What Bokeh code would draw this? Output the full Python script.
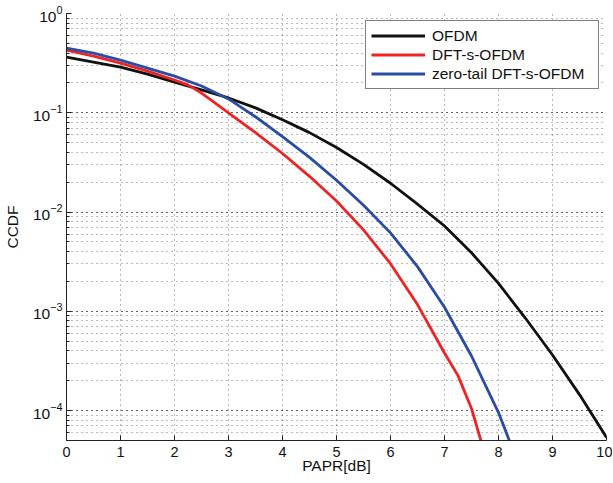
from bokeh.plotting import figure
from bokeh.models import Range1d, FixedTicker, LogTicker
from bokeh.embed import file_html
from bokeh.resources import INLINE

# ---- data ----
ofdm_x = [0, 0.5, 1, 1.5, 2, 2.5, 3, 3.5, 4, 4.5, 5, 5.5, 6, 6.5, 7, 7.5, 8,
          8.5, 9, 9.5, 10]
ofdm_y = [0.363, 0.324, 0.288, 0.245, 0.204, 0.170, 0.141, 0.112, 0.0851,
          0.0631, 0.0447, 0.0302, 0.0195, 0.0120, 0.00724, 0.00389, 0.00191,
          8.51e-4, 3.63e-4, 1.45e-4, 5.37e-5]

dfts_x = [0, 0.5, 1, 1.5, 2, 2.25, 2.5, 2.75, 3, 3.5, 4, 4.5, 5, 5.5, 6, 6.5,
          7, 7.25, 7.5, 7.7]
dfts_y = [0.427, 0.372, 0.316, 0.263, 0.214, 0.191, 0.158, 0.126, 0.100,
          0.0631, 0.0389, 0.0229, 0.0129, 0.00661, 0.00302, 0.00117, 3.80e-4,
          2.25e-4, 1.05e-4, 4.47e-5]

zt_x = [0, 0.5, 1, 1.5, 2, 2.5, 3, 3.5, 4, 4.5, 5, 5.5, 6, 6.5, 7, 7.5, 8, 8.2]
zt_y = [0.447, 0.398, 0.339, 0.282, 0.234, 0.186, 0.138, 0.0912, 0.0575,
        0.0355, 0.0209, 0.0117, 0.00617, 0.00282, 0.00110, 3.55e-4, 9.55e-5,
        5.01e-5]

x_ticks = [0, 1, 2, 3, 4, 5, 6, 7, 8, 9, 10]
series_names = ["OFDM", "DFT-s-OFDM", "zero-tail DFT-s-OFDM"]
x_label = "PAPR[dB]"
y_label = "CCDF"

FONT = "Liberation Sans"

p = figure(width=612, height=482, y_axis_type="log",
           x_range=Range1d(0, 10), y_range=Range1d(5e-5, 1),
           output_backend="svg", toolbar_location=None,
           min_border_left=66, min_border_top=13, min_border_right=6,
           min_border_bottom=42)
p.outline_line_color = None
p.background_fill_color = "white"
p.border_fill_color = "white"

colors = ["#111111", "#ee2424", "#2a4ca2"]
for xs, ys, c, name in zip([ofdm_x, dfts_x, zt_x], [ofdm_y, dfts_y, zt_y],
                           colors, series_names):
    p.line(xs, ys, line_color=c, line_width=2.8, legend_label=name,
           line_join="round")

# axes
p.xaxis.ticker = FixedTicker(ticks=x_ticks)
p.yaxis.ticker = LogTicker(num_minor_ticks=10)
for ax in (p.xaxis[0], p.yaxis[0]):
    ax.axis_line_color = "#222222"
    ax.major_tick_line_color = "#222222"
    ax.minor_tick_line_color = "#222222"
    ax.major_tick_in = 5
    ax.major_tick_out = 0
    ax.minor_tick_in = 3
    ax.minor_tick_out = 0
    ax.major_label_text_font = FONT
    ax.major_label_text_font_size = "14.5px"
    ax.major_label_text_color = "#111111"
    ax.axis_label_text_font = FONT
    ax.axis_label_text_font_size = "15.5px"
    ax.axis_label_text_font_style = "normal"
    ax.axis_label_text_color = "#111111"
p.yaxis.major_label_text_font_size = "15.5px"
p.xaxis.minor_tick_line_color = None
p.xaxis.axis_label = x_label
p.yaxis.axis_label = y_label
p.xaxis.major_label_standoff = 6
p.xaxis.axis_label_standoff = -3
p.yaxis.major_label_standoff = 4
p.yaxis.axis_label_standoff = 9

# grids (dotted, MATLAB style)
for g in (p.xgrid[0], p.ygrid[0]):
    g.grid_line_color = "black"
    g.grid_line_alpha = 0.55
    g.grid_line_dash = "1 4"
p.ygrid.minor_grid_line_color = "black"
p.ygrid.minor_grid_line_alpha = 0.55
p.ygrid.minor_grid_line_dash = "1 4"

# legend
lg = p.legend[0]
lg.location = "top_right"
lg.margin = 7
lg.padding = 5
lg.spacing = 0
lg.glyph_width = 54
lg.glyph_height = 19
lg.label_height = 19
lg.label_standoff = 7
lg.label_width = 161
lg.label_text_font = FONT
lg.label_text_font_size = "15.5px"
lg.label_text_color = "#111111"
lg.border_line_color = "black"
lg.border_line_width = 1
lg.background_fill_color = "white"
lg.background_fill_alpha = 1.0

open("out.html", "w").write(file_html(p, INLINE))
